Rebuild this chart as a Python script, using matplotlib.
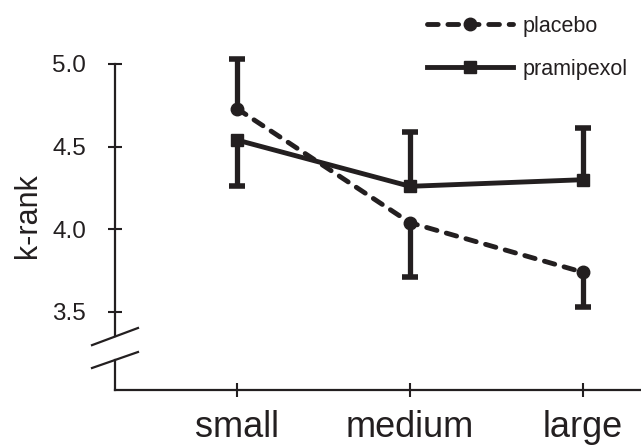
import numpy as np
import matplotlib
matplotlib.use('Agg')
import matplotlib.pyplot as plt

plt.rcParams['font.family'] = ['Liberation Sans', 'DejaVu Sans']

# data
sizes = ['small', 'medium', 'large']
placebo = [4.73, 4.04, 3.74]
pramipexol = [4.54, 4.26, 4.30]
# one-sided error bars (lower, upper)
placebo_lo = [0.0, 0.33, 0.21]
placebo_hi = [0.30, 0.0, 0.0]
pramipexol_lo = [0.28, 0.0, 0.0]
pramipexol_hi = [0.0, 0.33, 0.31]
yticks = [3.5, 4.0, 4.5, 5.0]

ink = '#231f20'

fig = plt.figure(figsize=(6.41, 4.46), dpi=100)
ax = fig.add_axes([115/641, 56/446, 526/641, 390/446])

x = np.arange(len(sizes))


def draw_err(ax, x, y, lo, hi):
    y = np.asarray(y)
    lo = np.asarray(lo)
    hi = np.asarray(hi)
    for xi, yi, l, h in zip(x, y, lo, hi):
        if h > 0:
            ax.vlines(xi, yi, yi + h, color=ink, lw=3.8, zorder=2)
            ax.plot([xi], [yi + h], marker='_', ms=12, mew=4, color=ink, zorder=2)
        if l > 0:
            ax.vlines(xi, yi - l, yi, color=ink, lw=3.8, zorder=2)
            ax.plot([xi], [yi - l], marker='_', ms=12, mew=4, color=ink, zorder=2)


draw_err(ax, x, placebo, placebo_lo, placebo_hi)
draw_err(ax, x, pramipexol, pramipexol_lo, pramipexol_hi)

ax.plot(x, placebo, color=ink, lw=3.5, ls=(0, (2.2, 2.0)), dash_capstyle='round',
        marker='o', ms=9, label='placebo', zorder=3)
ax.plot(x, pramipexol, color=ink, lw=3.5, ls='-',
        marker='s', ms=9, label='pramipexol', zorder=3)

ax.set_xlim(-0.705, 2.335)
ax.set_ylim(3.028, 5.387)

ax.set_xticks(x)
ax.set_xticklabels(sizes, fontsize=26)
ax.set_yticks(yticks)
ax.set_yticklabels(['%.1f' % t for t in yticks], fontsize=17.5)
ax.tick_params(axis='both', direction='inout', length=9.5, width=1.5, color=ink,
               labelcolor=ink)
ax.tick_params(axis='y', pad=16)
ax.tick_params(axis='x', pad=10)

for s in ['top', 'right']:
    ax.spines[s].set_visible(False)
ax.spines['bottom'].set_linewidth(1.6)
ax.spines['bottom'].set_color(ink)
ax.spines['left'].set_linewidth(1.6)
ax.spines['left'].set_color(ink)
ax.spines['left'].set_bounds(3.352, 5.0)

# lower piece of the broken y axis and the break marks
x0 = ax.get_xlim()[0]
ax.plot([x0, x0], [ax.get_ylim()[0], 3.21], color=ink, lw=1.6, clip_on=False)
ax.plot([-0.0437, 0.0437], [0.115, 0.159], color=ink, lw=1.6,
        transform=ax.transAxes, clip_on=False)
ax.plot([-0.0437, 0.0437], [0.0564, 0.0974], color=ink, lw=1.6,
        transform=ax.transAxes, clip_on=False)

fig.text(28/641, 1 - 215.5/446, 'k-rank', rotation=90, ha='center', va='center',
         fontsize=22, color=ink)

leg = ax.legend(loc='upper left', bbox_to_anchor=(427/641, 1 - 16/446),
                bbox_transform=fig.transFigure, frameon=False, fontsize=15.5,
                handlelength=4.0, handletextpad=0.45, labelspacing=1.0,
                borderpad=0, borderaxespad=0)
for t in leg.get_texts():
    t.set_color(ink)

fig.savefig('out.png', dpi=100)
